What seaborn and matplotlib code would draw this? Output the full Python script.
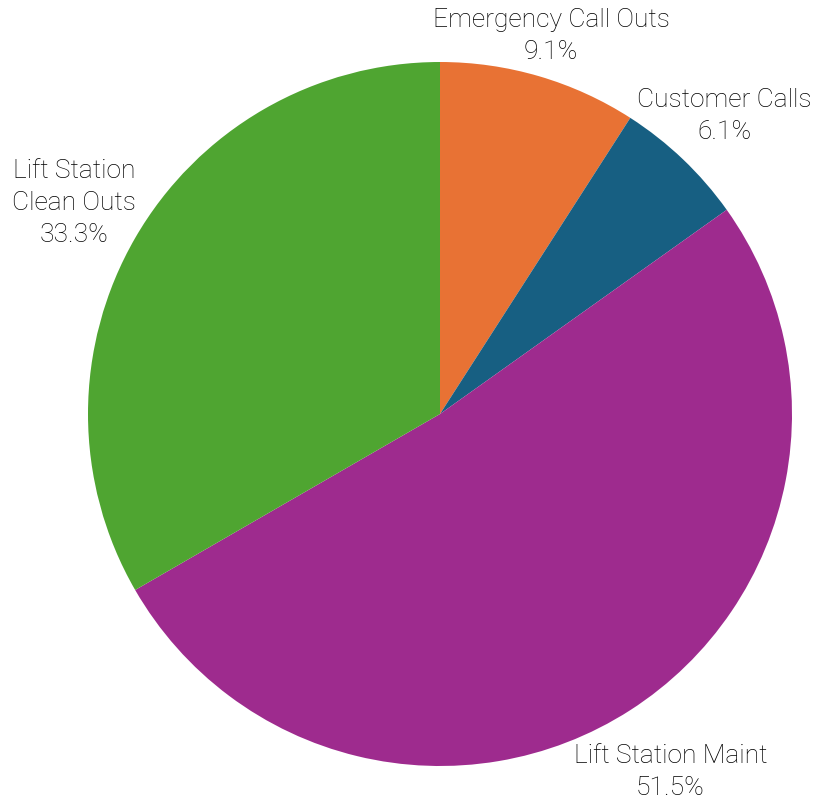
import numpy as np
import matplotlib
matplotlib.use('Agg')
import matplotlib.pyplot as plt
import seaborn as sns

# work order categories, clockwise from 12 o'clock
categories = ['Emergency Call Outs', 'Customer Calls', 'Lift Station Maint', 'Lift Station\nClean Outs']
counts = [3, 2, 17, 11]
colors = ['#E87234', '#175F82', '#9E2B8E', '#4FA531']
label_dist = [1.12, 1.17, 1.21, 1.20]

sns.set_style('white')
plt.rcParams['font.family'] = ['Roboto', 'DejaVu Sans']

fig = plt.figure(figsize=(8.15, 8.02), dpi=100)
fig.patch.set_facecolor('white')
ax = fig.add_axes([0, 0, 1, 1])

wedges, _ = ax.pie(counts, colors=colors, startangle=90, counterclock=False,
                   radius=1, wedgeprops=dict(linewidth=0))

total = sum(counts)
for w, name, n, d in zip(wedges, categories, counts, label_dist):
    theta = np.deg2rad((w.theta1 + w.theta2) / 2)
    pct = 100 * n / total
    ax.text(d * np.cos(theta), d * np.sin(theta), f'{name}\n{pct:.1f}%',
            ha='center', va='center', fontsize=19, color='#000000',
            fontweight='light', linespacing=1.42)

ax.set_xlim(-440 / 352, 375 / 352)
ax.set_ylim(-388 / 352, 414 / 352)
ax.set_aspect('equal')
ax.axis('off')

plt.savefig('out.png', dpi=100, facecolor='white')
